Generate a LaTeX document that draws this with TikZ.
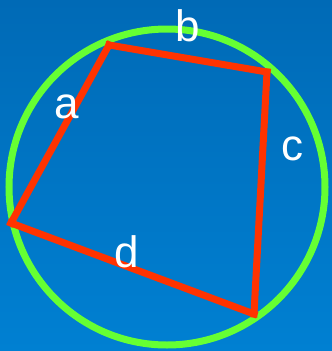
\documentclass[tikz,border=0pt]{standalone}
\usepackage{fontspec}
\setmainfont{Liberation Sans}
\usepackage{tikz}

\definecolor{bgtop}{RGB}{0,106,182}
\definecolor{bgbottom}{RGB}{0,128,210}
\definecolor{ringgreen}{RGB}{102,255,51}
\definecolor{sidered}{RGB}{255,51,0}

\begin{document}
\begin{tikzpicture}[
    x=1pt, y=-1pt,
    ring/.style={draw=ringgreen, line width=7pt},
    side/.style={draw=sidered, line width=7pt, line cap=rect},
    label/.style={text=white, font=\fontsize{44}{44}\selectfont, anchor=base, inner sep=0pt}
]
    \shade[top color=bgtop, bottom color=bgbottom] (0,0) rectangle (332,351);
    \useasboundingbox (0,0) rectangle (332,351);

    \draw[ring] (167,187) circle[radius=158];

    \coordinate (A) at (109,45);
    \coordinate (B) at (267,72);
    \coordinate (C) at (254,314);
    \coordinate (D) at (11,223);

    \draw[side] (A) -- (B);
    \draw[side] (B) -- (C);
    \draw[side] (C) -- (D);
    \draw[side] (D) -- (A);

    \node[label] (la) at (67,118) {a};
    \node[label] (lb) at (188,41) {b};
    \node[label] (lc) at (292,160) {c};
    \node[label] (ld) at (127,267) {d};
\end{tikzpicture}
\end{document}
